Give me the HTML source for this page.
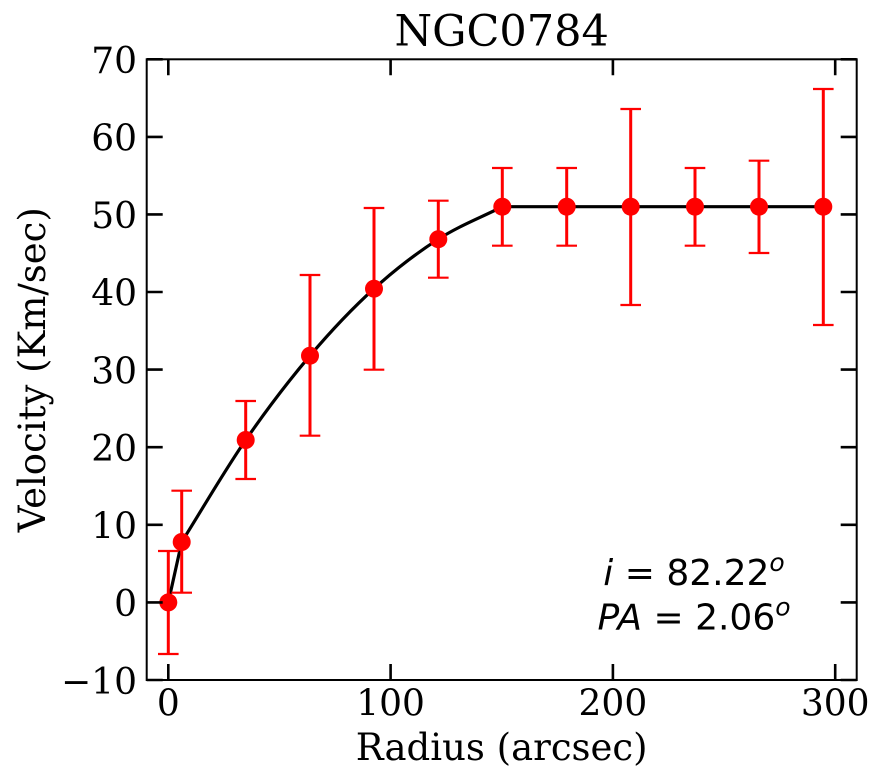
<!DOCTYPE html>
<html><head><meta charset="utf-8"><style>
html,body{margin:0;padding:0;background:#fff;}
svg{display:block;}
.t{font-family:"DejaVu Serif","Liberation Serif",serif;font-size:36px;fill:#000;}
.m{font-family:"DejaVu Sans","Liberation Sans",sans-serif;font-size:36px;fill:#000;}
</style></head><body>
<svg width="887" height="784" viewBox="0 0 887 784" xmlns="http://www.w3.org/2000/svg">
<rect width="887" height="784" fill="#fff"/>
<path d="M168.3 602.4 L181.7 542 C203 508 224.3 471 245.7 440 C267.1 409 288.6 380.9 310 355.7 C331.4 330.5 352.6 308.1 374 288.7 C395.4 269.3 416.9 252.9 438.3 239.2 C459.7 225.5 481 217.6 502.3 206.7 L823.3 206.7" fill="none" stroke="#000" stroke-width="3.2" stroke-linejoin="round"/>
<g stroke="#ff0000" fill="none">
<g stroke-width="3">
<line x1="168.3" y1="551" x2="168.3" y2="654"/>
<line x1="181.7" y1="490.7" x2="181.7" y2="592.7"/>
<line x1="245.7" y1="401" x2="245.7" y2="479"/>
<line x1="310" y1="275" x2="310" y2="435.7"/>
<line x1="374" y1="208" x2="374" y2="369.7"/>
<line x1="438.3" y1="200.7" x2="438.3" y2="277.7"/>
<line x1="502.3" y1="168" x2="502.3" y2="245.7"/>
<line x1="566.7" y1="168" x2="566.7" y2="245.7"/>
<line x1="630.7" y1="109" x2="630.7" y2="305"/>
<line x1="695" y1="168" x2="695" y2="245.7"/>
<line x1="759" y1="160.7" x2="759" y2="253"/>
<line x1="823.3" y1="89" x2="823.3" y2="325"/>
</g>
<g stroke-width="2.2">
<path d="M158 551h20.6M158 654h20.6"/>
<path d="M171.4 490.7h20.6M171.4 592.7h20.6"/>
<path d="M235.4 401h20.6M235.4 479h20.6"/>
<path d="M299.7 275h20.6M299.7 435.7h20.6"/>
<path d="M363.7 208h20.6M363.7 369.7h20.6"/>
<path d="M428 200.7h20.6M428 277.7h20.6"/>
<path d="M492 168h20.6M492 245.7h20.6"/>
<path d="M556.4 168h20.6M556.4 245.7h20.6"/>
<path d="M620.4 109h20.6M620.4 305h20.6"/>
<path d="M684.7 168h20.6M684.7 245.7h20.6"/>
<path d="M748.7 160.7h20.6M748.7 253h20.6"/>
<path d="M813 89h20.6M813 325h20.6"/>
</g>
</g>
<g fill="#ff0000">
<circle cx="168.3" cy="602.4" r="9"/>
<circle cx="181.7" cy="542" r="9"/>
<circle cx="245.7" cy="440" r="9"/>
<circle cx="310" cy="355.7" r="9"/>
<circle cx="374" cy="288.7" r="9"/>
<circle cx="438.3" cy="239.2" r="9"/>
<circle cx="502.3" cy="206.7" r="9"/>
<circle cx="566.7" cy="206.7" r="9"/>
<circle cx="630.7" cy="206.7" r="9"/>
<circle cx="695" cy="206.7" r="9"/>
<circle cx="759" cy="206.7" r="9"/>
<circle cx="823.3" cy="206.7" r="9"/>
</g>
<rect x="146.7" y="59.3" width="710" height="620.7" fill="none" stroke="#000" stroke-width="2"/>
<g stroke="#000" stroke-width="2.6">
<path d="M146.7 602.4h16M146.7 524.8h16M146.7 447.2h16M146.7 369.6h16M146.7 292h16M146.7 214.4h16M146.7 136.9h16M146.7 59.3h16M146.7 680h16"/>
<path d="M856.7 602.4h-16M856.7 524.8h-16M856.7 447.2h-16M856.7 369.6h-16M856.7 292h-16M856.7 214.4h-16M856.7 136.9h-16M856.7 59.3h-16M856.7 680h-16"/>
<path d="M168.3 680v-16M390.6 680v-16M612.9 680v-16M835.2 680v-16"/>
<path d="M168.3 59.3v16M390.6 59.3v16M612.9 59.3v16M835.2 59.3v16"/>
</g>
<g class="t" text-anchor="end">
<text x="137" y="694">−10</text>
<text x="137" y="616">0</text>
<text x="137" y="538.5">10</text>
<text x="137" y="461">20</text>
<text x="137" y="383.3">30</text>
<text x="137" y="305.7">40</text>
<text x="137" y="228">50</text>
<text x="137" y="150.5">60</text>
<text x="137" y="73">70</text>
</g>
<g class="t" text-anchor="middle">
<text x="168.3" y="715.7">0</text>
<text x="390.6" y="715.7">100</text>
<text x="612.9" y="715.7">200</text>
<text x="835.2" y="715.7">300</text>
</g>
<text class="t" x="501.7" y="760" text-anchor="middle" style="font-size:37px">Radius (arcsec)</text>
<text class="t" transform="translate(45,369.7) rotate(-90)" text-anchor="middle" style="font-size:37px">Velocity (Km/sec)</text>
<text class="t" x="501.7" y="45.7" text-anchor="middle" style="font-size:43px">NGC0784</text>
<text class="m" x="694" y="585" text-anchor="middle"><tspan font-style="italic">i</tspan> = 82.22<tspan font-style="italic" font-size="25" dy="-14">o</tspan></text>
<text class="m" x="694" y="629.3" text-anchor="middle"><tspan font-style="italic">PA</tspan> = 2.06<tspan font-style="italic" font-size="25" dy="-14">o</tspan></text>
</svg>
</body></html>
